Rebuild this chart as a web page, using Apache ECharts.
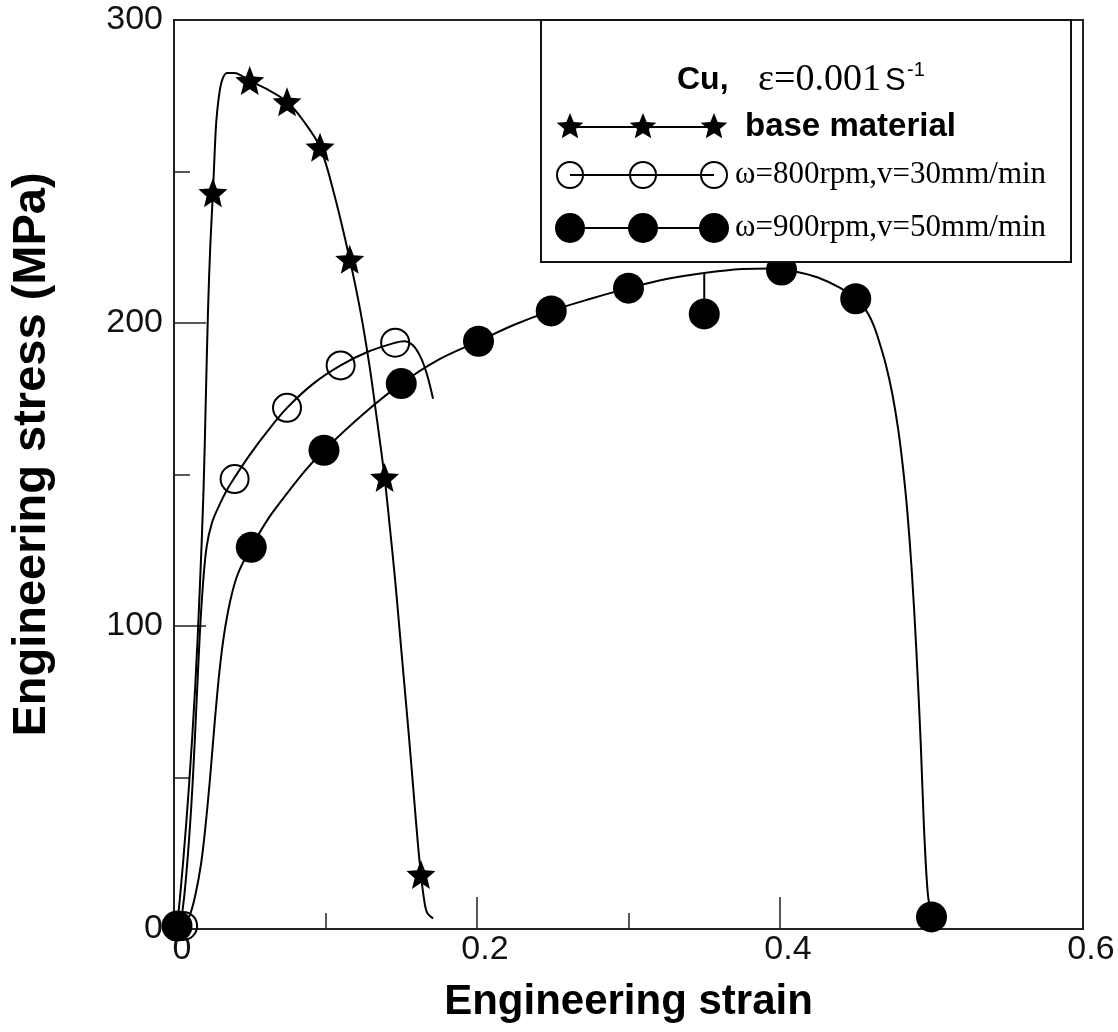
<!DOCTYPE html>
<html><head><meta charset="utf-8">
<script src="https://cdn.jsdelivr.net/npm/echarts@6/dist/echarts.min.js"></script>
<style>html,body{margin:0;padding:0;background:#fff}#c{width:1118px;height:1032px}</style>
</head><body><div id="c"></div>
<script>
// ---- data (strain, stress MPa) ----
const xTicks = [0, 0.2, 0.4, 0.6];
const yTicks = [0, 100, 200, 300];
const seriesNames = ['base material', 'ω=800rpm,v=30mm/min', 'ω=900rpm,v=50mm/min'];

const baseCurve = [[0.002,0],[0.006,22],[0.010,48],[0.014,80],[0.017,112],[0.0195,145],[0.021,175],[0.0225,205],[0.024,226],[0.0257,243],[0.027,258],[0.028,267],[0.030,276],[0.032,280.5],[0.035,282.5],[0.040,282.5],[0.045,281.5],[0.050,280],[0.062,277],[0.0746,273],[0.085,267],[0.0964,258],[0.106,242],[0.116,221],[0.123,204],[0.129,186],[0.134,168],[0.139,149],[0.1426,132],[0.146,115],[0.149,98],[0.152,81],[0.155,64],[0.158,46],[0.161,28],[0.163,18],[0.165,10],[0.167,5.5],[0.171,3.5]];
const baseMarkers = [[0.0257,243],[0.050,280],[0.0746,273],[0.0964,258],[0.116,221],[0.139,149],[0.163,18]];

const rpm800Curve = [[0.004,0],[0.007,12],[0.010,30],[0.0125,50],[0.015,76],[0.017,97],[0.019,113],[0.0215,126],[0.025,134],[0.030,140],[0.035,145],[0.040,149],[0.050,156.5],[0.062,164.5],[0.0746,172],[0.092,180],[0.110,186],[0.128,190.5],[0.146,193.5],[0.152,194],[0.158,192.5],[0.163,188.5],[0.167,183],[0.171,175]];
const rpm800Markers = [[0.006,1],[0.040,148.5],[0.0746,172],[0.110,186],[0.146,193.5]];

const rpm900Curve = [[0.005,0],[0.010,4],[0.014,11],[0.018,22],[0.021,35],[0.024,51],[0.027,69],[0.030,85],[0.033,97],[0.037,108],[0.042,117],[0.051,126],[0.063,136],[0.075,144],[0.087,151.5],[0.099,158],[0.125,170],[0.150,180],[0.175,188],[0.201,194],[0.225,199.5],[0.249,204],[0.275,208],[0.300,211.5],[0.325,214.5],[0.350,216.5],[0.375,217.8],[0.395,218],[0.410,217],[0.425,215],[0.440,211.5],[0.450,208],[0.457,204],[0.462,199],[0.466,193],[0.470,186],[0.474,177],[0.478,165],[0.481,153],[0.484,138],[0.487,118],[0.490,92],[0.493,60],[0.495,34],[0.4975,12],[0.500,4]];
const rpm900Markers = [[0.002,1],[0.051,126],[0.099,158],[0.150,180],[0.201,194],[0.249,204],[0.300,211.5],[0.350,203],[0.401,217.5],[0.450,208],[0.500,4]];
const rpm900Drop = [[0.350,216.5],[0.350,207]];

// ---- styling helpers ----
function starPts(cx, cy, R, r) {
  const p = [];
  for (let i = 0; i < 10; i++) {
    const a = -Math.PI / 2 + i * Math.PI / 5;
    const rad = i % 2 === 0 ? R : r;
    p.push([cx + rad * Math.cos(a), cy + rad * Math.sin(a)]);
  }
  return p;
}
const starPath = 'path://' + starPts(50, 50, 50, 22).map((q, i) => (i ? 'L' : 'M') + q[0].toFixed(2) + ' ' + q[1].toFixed(2)).join(' ') + ' Z';

const INK = '#000';
const sans = '"Liberation Sans", Arial, Helvetica, sans-serif';
const serif = '"Liberation Serif", "Times New Roman", serif';

function lineSeries(name, data) {
  return { name, type: 'line', data, symbol: 'none', smooth: 0.35,
    lineStyle: { color: INK, width: 2 }, z: 2, silent: true };
}

// legend drawn as graphic elements
const legX = [570, 643, 714];
const rowY = [127, 175, 228];
const legend = [
  { type: 'rect', shape: { x: 541, y: 20, width: 530, height: 242 }, style: { fill: '#fff', stroke: '#111', lineWidth: 2 }, z: 10 },
  { type: 'text', x: 677, y: 80, style: { text: 'Cu,', font: 'bold 32px ' + sans, fill: INK, verticalAlign: 'middle' }, z: 11 },
  { type: 'text', x: 758, y: 80, style: { text: 'ε=0.001', font: '38px ' + serif, fill: INK, verticalAlign: 'middle' }, z: 11 },
  { type: 'text', x: 885, y: 81, style: { text: 'S', font: '31px ' + sans, fill: INK, verticalAlign: 'middle' }, z: 11 },
  { type: 'text', x: 907, y: 70, style: { text: '-1', font: '20px ' + sans, fill: INK, verticalAlign: 'middle' }, z: 11 }
];
rowY.forEach((y, k) => {
  legend.push({ type: 'line', shape: { x1: legX[0], y1: y, x2: legX[2], y2: y }, style: { stroke: INK, lineWidth: 2 }, z: 11 });
  legX.forEach(x => {
    if (k === 0) legend.push({ type: 'polygon', shape: { points: starPts(x, y, 14, 6.2) }, style: { fill: INK }, z: 12 });
    else if (k === 1) legend.push({ type: 'circle', shape: { cx: x, cy: y, r: 13 }, style: { fill: 'rgba(0,0,0,0)', stroke: INK, lineWidth: 2 }, z: 12 });
    else legend.push({ type: 'circle', shape: { cx: x, cy: y, r: 15 }, style: { fill: INK }, z: 12 });
  });
  legend.push({ type: 'text', x: k === 0 ? 745 : 735, y: y,
    style: { text: seriesNames[k], font: k === 0 ? 'bold 33px ' + sans : '31px ' + serif, fill: INK, verticalAlign: 'middle' }, z: 11 });
});

const chart = echarts.init(document.getElementById('c'), null, { renderer: 'canvas' });
chart.setOption({
  animation: false,
  backgroundColor: '#fff',
  grid: { left: 174, right: 35, top: 20, bottom: 103, show: true, borderColor: '#222', borderWidth: 2 },
  xAxis: {
    type: 'value', min: xTicks[0], max: xTicks[xTicks.length - 1], interval: xTicks[1] - xTicks[0],
    name: 'Engineering strain', nameLocation: 'middle', nameGap: 52,
    nameTextStyle: { color: INK, fontWeight: 'bold', fontSize: 42, fontFamily: sans },
    axisLine: { show: true, lineStyle: { color: '#222', width: 2 } },
    axisTick: { show: true, inside: true, length: 32, lineStyle: { color: '#222', width: 1.5 } },
    minorTick: { show: true, splitNumber: 2, length: 16, lineStyle: { color: '#222', width: 1.5 } },
    splitLine: { show: false },
    axisLabel: { color: '#111', fontSize: 34, fontFamily: sans, margin: 4, padding: [0, 0, 0, 16], formatter: v => String(+v.toFixed(1)) }
  },
  yAxis: {
    type: 'value', min: yTicks[0], max: yTicks[yTicks.length - 1], interval: yTicks[1] - yTicks[0],
    name: 'Engineering stress (MPa)', nameLocation: 'middle', nameGap: 118, nameRotate: 90,
    nameTextStyle: { color: INK, fontWeight: 'bold', fontSize: 47, fontFamily: sans, padding: [0, 0, 0, 40] },
    axisLine: { show: true, lineStyle: { color: '#222', width: 2 } },
    axisTick: { show: true, inside: true, length: 32, lineStyle: { color: '#222', width: 1.5 } },
    minorTick: { show: true, splitNumber: 2, length: 16, lineStyle: { color: '#222', width: 1.5 } },
    splitLine: { show: false },
    axisLabel: { color: '#111', fontSize: 34, fontFamily: sans, margin: 11 }
  },
  series: [
    lineSeries(seriesNames[0], baseCurve),
    { name: seriesNames[0] + ' markers', type: 'scatter', data: baseMarkers, symbol: starPath, symbolSize: 29,
      itemStyle: { color: INK, opacity: 1 }, z: 4, clip: false, silent: true },
    lineSeries(seriesNames[1], rpm800Curve),
    { name: seriesNames[1] + ' markers', type: 'scatter', data: rpm800Markers, symbol: 'circle', symbolSize: 28,
      itemStyle: { color: 'rgba(0,0,0,0)', borderColor: INK, borderWidth: 2, opacity: 1 }, z: 4, clip: false, silent: true },
    lineSeries(seriesNames[2], rpm900Curve),
    { name: seriesNames[2] + ' drop', type: 'line', data: rpm900Drop, symbol: 'none', lineStyle: { color: INK, width: 2 }, z: 2, silent: true },
    { name: seriesNames[2] + ' markers', type: 'scatter', data: rpm900Markers, symbol: 'circle', symbolSize: 31,
      itemStyle: { color: INK, opacity: 1 }, z: 4, clip: false, silent: true }
  ],
  graphic: legend
});
</script>
</body></html>
